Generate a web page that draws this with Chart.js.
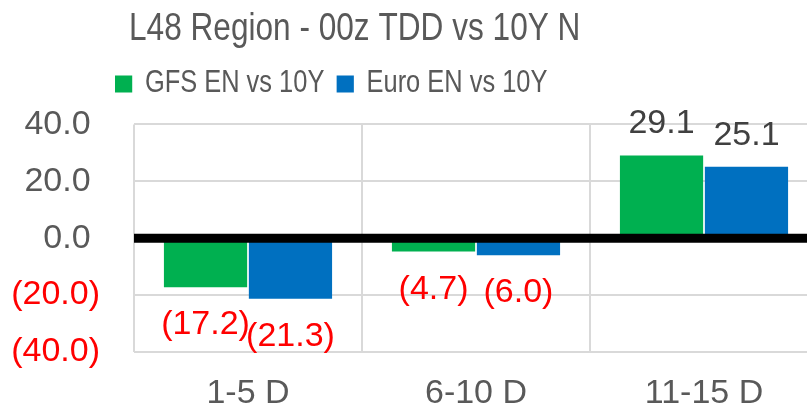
<!DOCTYPE html>
<html>
<head>
<meta charset="utf-8">
<script src="https://cdn.jsdelivr.net/npm/chart.js@4"></script>
<style>
  html, body { margin: 0; padding: 0; background: #fff; overflow: hidden; }
  #wrap { width: 818px; height: 410px; }
</style>
</head>
<body>
<div id="wrap"><canvas id="myChart" width="818" height="410"></canvas></div>
<script>
const categories = ['1-5 D', '6-10 D', '11-15 D'];
const gfsValues = [-17.2, -4.7, 29.1];
const euroValues = [-21.3, -6.0, 25.1];
const seriesNames = ['GFS EN vs 10Y', 'Euro EN vs 10Y'];
const seriesColors = ['#00B050', '#0070C0'];
const yTicks = [-40, -20, 0, 20, 40];
const titleText = 'L48 Region - 00z TDD vs 10Y N';

const sans = '"Liberation Sans", Arial, sans-serif';

function fmt(v) {
  return v < 0 ? '(' + Math.abs(v).toFixed(1) + ')' : v.toFixed(1);
}

// excel title/legend font is a narrow one, so squeeze the drawing sideways
function squeezeDraw(box, k, pivot) {
  const origDraw = box.draw;
  box.draw = function () {
    const c = this.ctx;
    const px = pivot(this);
    c.save();
    c.translate(px, 0);
    c.scale(k, 1);
    c.translate(-px, 0);
    origDraw.apply(this, arguments);
    c.restore();
  };
}

// legend gets extra room below it, title/legend shifted left like the excel picture
const layoutTweaks = {
  id: 'layoutTweaks',
  beforeLayout(chart) {
    const lg = chart.legend;
    if (lg && !lg._wrapped) {
      const origFit = lg.fit;
      lg.fit = function () {
        origFit.call(this);
        this.height += 15;
      };
      squeezeDraw(lg, 0.82, b => b.left + b.options.labels.padding);
      squeezeDraw(chart.titleBlock, 0.8, b => b.left);
      lg._wrapped = true;
    }
  },
  afterLayout(chart) {
    chart.titleBlock.left = 129;
    chart.legend.left = 100;
  }
};

// black zero line on top of bars + value labels
const zeroAndLabels = {
  id: 'zeroAndLabels',
  afterDatasetsDraw(chart) {
    const ctx = chart.ctx;
    const area = chart.chartArea;
    const y0 = chart.scales.y.getPixelForValue(0);
    ctx.save();
    ctx.strokeStyle = '#000';
    ctx.lineWidth = 9;
    ctx.beginPath();
    ctx.moveTo(area.left, y0);
    ctx.lineTo(area.right, y0);
    ctx.stroke();

    ctx.font = '34px ' + sans;
    ctx.textAlign = 'center';
    ctx.textBaseline = 'alphabetic';
    chart.data.datasets.forEach((ds, i) => {
      chart.getDatasetMeta(i).data.forEach((bar, j) => {
        const v = ds.data[j];
        if (v >= 0) {
          ctx.fillStyle = '#404040';
          ctx.fillText(fmt(v), bar.x, bar.y - 22);
        } else {
          ctx.fillStyle = '#FF0000';
          ctx.fillText(fmt(v), bar.x, bar.y + 47);
        }
      });
    });
    ctx.restore();
  }
};

const data = {
  labels: categories,
  datasets: [
    { label: seriesNames[0], data: gfsValues, backgroundColor: seriesColors[0], borderWidth: 0 },
    { label: seriesNames[1], data: euroValues, backgroundColor: seriesColors[1], borderWidth: 0 }
  ]
};

const config = {
  type: 'bar',
  data: data,
  options: {
    responsive: false,
    animation: false,
    categoryPercentage: 0.745,
    barPercentage: 0.98,
    layout: { padding: 0 },
    plugins: {
      title: {
        display: true,
        text: titleText,
        align: 'start',
        color: '#595959',
        font: { family: sans, size: 39.5, weight: 'normal' },
        padding: { top: 5, bottom: 1 }
      },
      legend: {
        display: true,
        align: 'start',
        labels: {
          boxWidth: 21,
          boxHeight: 17,
          padding: 15,
          color: '#595959',
          font: { family: sans, size: 31 }
        }
      },
      tooltip: { enabled: false }
    },
    scales: {
      x: {
        grid: { color: '#d9d9d9', lineWidth: 2, drawTicks: false },
        border: { display: false },
        ticks: { color: '#595959', font: { family: sans, size: 34 }, padding: 21 },
        afterFit: s => { s.height = 58; }
      },
      y: {
        min: -40,
        max: 40,
        afterBuildTicks: s => { s.ticks = yTicks.map(v => ({ value: v })); },
        grid: {
          color: c => (c.tick && c.tick.value === 0) ? 'rgba(0,0,0,0)' : '#d9d9d9',
          lineWidth: 2,
          drawTicks: false
        },
        border: { display: false },
        ticks: {
          padding: 34,
          font: { family: sans, size: 34 },
          color: c => c.tick.value < 0 ? '#FF0000' : '#595959',
          callback: v => v < 0 ? fmt(v) : fmt(v) + ' '
        },
        afterFit: s => { s.width = 134; }
      }
    }
  },
  plugins: [layoutTweaks, zeroAndLabels]
};

const myChart = new Chart(document.getElementById('myChart'), config);
</script>
</body>
</html>
